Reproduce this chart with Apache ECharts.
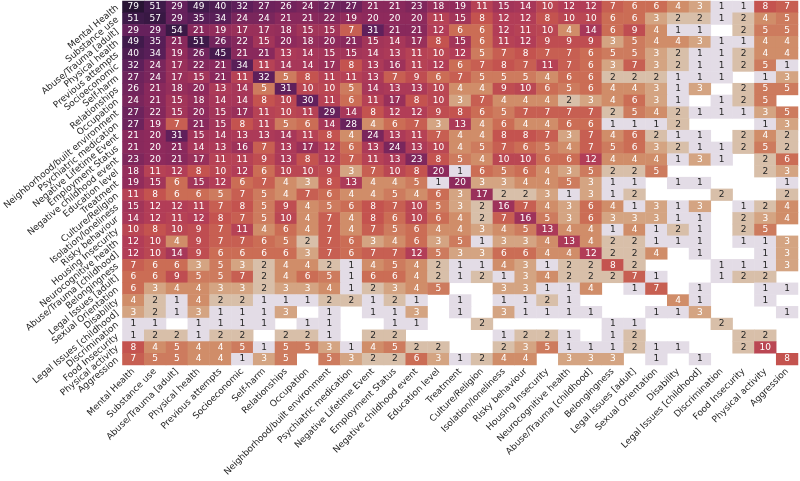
<!DOCTYPE html>
<html>
<head>
<meta charset="utf-8">
<script src="https://cdn.jsdelivr.net/npm/echarts@6/dist/echarts.min.js"></script>
<style>
html,body{margin:0;padding:0;background:#fff;}
#chart{width:800px;height:481px;}
</style>
</head>
<body>
<div id="chart"></div>
<script>
const categories = ["Mental Health","Substance use","Abuse/Trauma [adult]","Physical health","Previous attempts","Socioeconomic","Self-harm","Relationships","Occupation","Neighborhood/built environment","Psychiatric medication","Negative Lifetime Event","Employment Status","Negative childhood event","Education level","Treatment","Culture/Religion","Isolation/loneliness","Risky behaviour","Housing Insecurity","Neurocognitive health","Abuse/Trauma [childhood]","Belongingness","Legal Issues [adult]","Sexual Orientation","Disability","Legal Issues [childhood]","Discrimination","Food Insecurity","Physical activity","Aggression"];

// co-occurrence counts, one list per row (0 = empty cell)
const counts = [
[79,51,29,49,40,32,27,26,24,27,27,21,21,23,18,19,11,15,14,10,12,12,7,6,6,4,3,1,1,8,7],
[51,57,29,35,34,24,24,21,21,22,19,20,20,20,11,15,8,12,12,8,10,10,6,6,3,2,2,1,2,4,5],
[29,29,54,21,19,17,17,18,15,15,7,31,21,21,12,6,6,12,11,10,4,14,6,9,4,1,1,0,2,5,5],
[49,35,21,51,26,22,15,20,18,20,21,15,14,17,8,15,6,11,12,9,9,9,3,5,4,4,3,1,1,4,4],
[40,34,19,26,45,21,21,13,14,15,15,14,13,11,10,12,5,7,8,7,7,6,5,5,3,2,1,1,2,4,4],
[32,24,17,22,21,34,11,14,14,17,8,13,16,11,12,6,7,8,7,11,7,6,3,7,3,2,1,1,2,5,1],
[27,24,17,15,21,11,32,5,8,11,11,13,7,9,6,7,5,5,5,4,6,6,2,2,2,1,1,1,0,1,3],
[26,21,18,20,13,14,5,31,10,10,5,14,13,13,10,4,4,9,10,6,5,6,4,4,3,1,3,0,2,5,5],
[24,21,15,18,14,14,8,10,30,11,6,11,17,8,10,3,7,4,4,4,2,3,4,6,3,1,0,1,2,5,0],
[27,22,15,20,15,17,11,10,11,29,14,8,12,12,9,8,6,5,7,7,7,7,2,5,4,2,1,1,1,3,5],
[27,19,7,21,15,8,11,5,6,14,28,4,6,7,3,13,4,6,4,4,6,6,1,1,1,2,0,0,0,1,3],
[21,20,31,15,14,13,13,14,11,8,4,24,13,11,7,4,4,8,8,7,3,7,4,6,2,1,1,0,2,4,2],
[21,20,21,14,13,16,7,13,17,12,6,13,24,13,10,4,5,7,6,5,4,7,5,6,3,2,1,1,2,5,2],
[23,20,21,17,11,11,9,13,8,12,7,11,13,23,8,5,4,10,10,6,6,12,4,4,4,1,3,1,0,2,6],
[18,11,12,8,10,12,6,10,10,9,3,7,10,8,20,1,6,5,6,4,3,5,2,2,5,0,0,0,0,2,3],
[19,15,6,15,12,6,7,4,3,8,13,4,4,5,1,20,3,3,4,4,5,3,1,1,0,1,1,0,0,0,1],
[11,8,6,6,5,7,5,4,7,6,4,4,5,4,6,3,17,2,2,3,1,3,1,2,0,0,0,2,0,0,2],
[15,12,12,11,7,8,5,9,4,5,6,8,7,10,5,3,2,16,7,4,3,6,4,1,3,1,3,0,1,2,4],
[14,12,11,12,8,7,5,10,4,7,4,8,6,10,6,4,2,7,16,5,3,6,3,3,3,1,1,0,2,3,4],
[10,8,10,9,7,11,4,6,4,7,4,7,5,6,4,4,3,4,5,13,4,4,1,4,1,2,1,0,2,5,0],
[12,10,4,9,7,7,6,5,2,7,6,3,4,6,3,5,1,3,3,4,13,4,2,2,1,1,1,0,1,1,3],
[12,10,14,9,6,6,6,6,3,7,6,7,7,12,5,3,3,6,6,4,4,12,2,2,4,0,1,0,0,1,3],
[7,6,6,3,5,3,2,4,4,2,1,4,5,4,2,1,1,4,3,1,2,2,8,2,0,0,0,1,1,1,3],
[6,6,9,5,5,7,2,4,6,5,1,6,6,4,2,1,2,1,3,4,2,2,2,7,1,0,0,1,2,2,0],
[6,3,4,4,3,3,2,3,3,4,1,2,3,4,5,0,0,3,3,1,1,4,0,1,7,0,1,0,0,1,1],
[4,2,1,4,2,2,1,1,1,2,2,1,2,1,0,1,0,1,1,2,1,0,0,0,0,4,1,0,0,1,0],
[3,2,1,3,1,1,1,3,0,1,0,1,1,3,0,1,0,3,1,1,1,1,0,0,1,1,3,0,0,0,1],
[1,1,0,1,1,1,1,0,1,1,0,0,1,1,0,0,2,0,0,0,0,0,1,1,0,0,0,2,0,0,0],
[1,2,2,1,2,2,0,2,2,1,0,2,2,0,0,0,0,1,2,2,1,0,1,2,0,0,0,0,2,2,0],
[8,4,5,4,4,5,1,5,5,3,1,4,5,2,2,0,0,2,3,5,1,1,1,2,1,1,0,0,2,10,0],
[7,5,5,4,4,1,3,5,0,5,3,2,2,6,3,1,2,4,4,0,3,3,3,0,1,0,1,0,0,0,8]
];

// colour scale (log-spaced stops, like a log-normalised twilight palette)
const colorStops = [1,2,3,4,6,8,12,20,30,50,79];
const stopColors = ["#e3dce6","#d8bfa9","#d4a482","#d08d69","#cb6d55","#c4534f","#b23d57","#8e2a5c","#62205c","#3f1a4a","#281433"];

function norm(v){
  for (let i=0;i<colorStops.length-1;i++){
    const a=colorStops[i], b=colorStops[i+1];
    if (v<=b) return i + (Math.log(v)-Math.log(a))/(Math.log(b)-Math.log(a));
  }
  return colorStops.length-1;
}

const data = [];
counts.forEach((row, r) => {
  row.forEach((v, c) => {
    if (v > 0) {
      data.push({
        value: [c, r, v, norm(v)],
        label: { color: v <= 2 ? '#262626' : '#ffffff' }
      });
    }
  });
});

const chart = echarts.init(document.getElementById('chart'), null, {renderer:'canvas'});
const font = 'DejaVu Sans';
chart.setOption({
  animation: false,
  backgroundColor: '#ffffff',
  grid: { left: 107, right: 2, top: 1, bottom: 116, containLabel: false },
  xAxis: {
    type: 'category',
    data: categories,
    axisLine: { show: false },
    axisTick: { alignWithLabel: true, length: 4, lineStyle: { color: '#333' } },
    axisLabel: { interval: 0, rotate: 45, fontSize: 9, fontFamily: font, color: '#262626', margin: 5 },
    splitArea: { show: false }
  },
  yAxis: {
    type: 'category',
    data: categories,
    inverse: true,
    axisLine: { show: false },
    axisTick: { alignWithLabel: true, length: 4, lineStyle: { color: '#333' } },
    axisLabel: { interval: 0, rotate: 40, fontSize: 9, fontFamily: font, color: '#262626', margin: 5 },
    splitArea: { show: false }
  },
  visualMap: {
    show: false,
    dimension: 3,
    min: 0,
    max: colorStops.length - 1,
    inRange: { color: stopColors }
  },
  series: [{
    type: 'heatmap',
    data: data,
    label: {
      show: true,
      fontSize: 9,
      fontFamily: font,
      formatter: p => p.value[2]
    },
    itemStyle: { borderWidth: 0 },
    emphasis: { disabled: true }
  }]
});
</script>
</body>
</html>
